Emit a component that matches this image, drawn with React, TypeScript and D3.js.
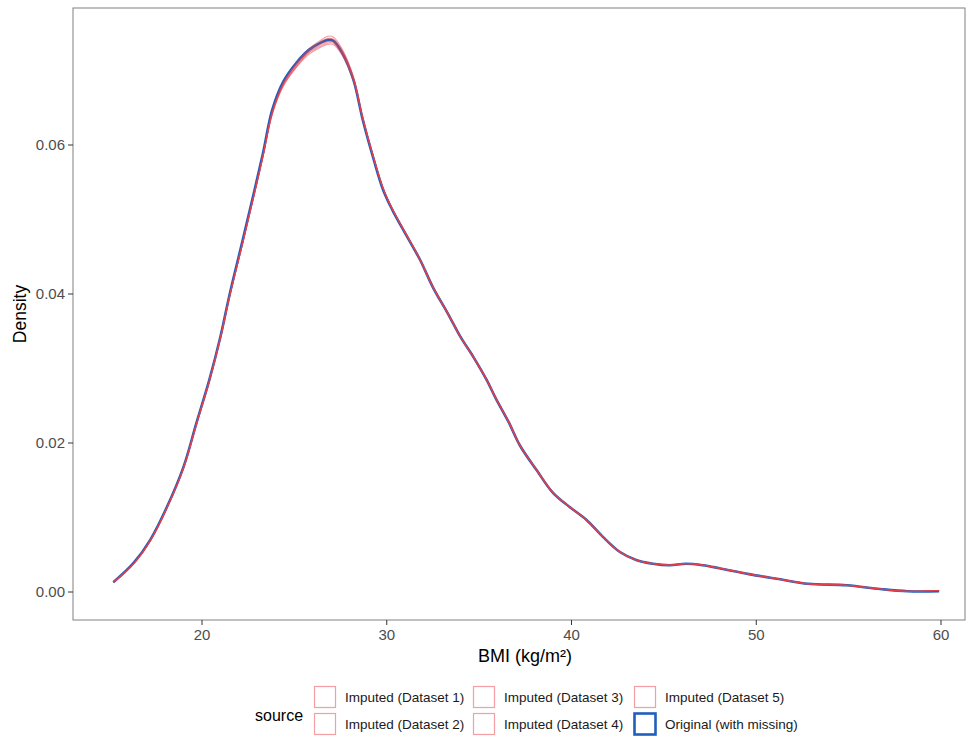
import React from "react";
import * as d3 from "d3";

const bmi = [15.2, 16.3, 17.2, 18.1, 19.0, 19.7, 20.4, 21.0, 21.5, 22.2, 22.8, 23.3, 23.8, 24.4, 25.1, 25.8, 26.4, 26.8, 27.1, 27.6, 28.2, 28.7, 29.3, 29.8, 30.3, 31.1, 31.8, 32.5, 33.3, 34.0, 34.7, 35.4, 35.9, 36.6, 37.2, 38.1, 39.0, 39.9, 40.8, 41.7, 42.6, 43.5, 44.4, 45.3, 46.2, 47.1, 48.0, 49.6, 51.3, 52.8, 54.9, 56.7, 58.2, 59.9];

const original = [0.0013, 0.0039, 0.0070, 0.0114, 0.0168, 0.0227, 0.0285, 0.0343, 0.0400, 0.0472, 0.0535, 0.0589, 0.0647, 0.0685, 0.0710, 0.0728, 0.0737, 0.0741, 0.0740, 0.0723, 0.0687, 0.0634, 0.0580, 0.0540, 0.0513, 0.0477, 0.0446, 0.0409, 0.0374, 0.0342, 0.0315, 0.0285, 0.0260, 0.0228, 0.0197, 0.0164, 0.0133, 0.0114, 0.0097, 0.0074, 0.0054, 0.0043, 0.0038, 0.0036, 0.0038, 0.0036, 0.0032, 0.0024, 0.0017, 0.0011, 0.0009, 0.0004, 0.0001, 0.0001];
const imputed1 = [0.0013, 0.0038, 0.0069, 0.0113, 0.0167, 0.0226, 0.0284, 0.0342, 0.0398, 0.0469, 0.0532, 0.0586, 0.0644, 0.0683, 0.0709, 0.0729, 0.0740, 0.0746, 0.0745, 0.0728, 0.0691, 0.0637, 0.0582, 0.0542, 0.0514, 0.0478, 0.0446, 0.0409, 0.0374, 0.0342, 0.0315, 0.0285, 0.0260, 0.0228, 0.0197, 0.0164, 0.0133, 0.0114, 0.0097, 0.0074, 0.0054, 0.0043, 0.0038, 0.0036, 0.0038, 0.0036, 0.0032, 0.0024, 0.0017, 0.0011, 0.0009, 0.0004, 0.0001, 0.0002];
const imputed2 = [0.0013, 0.0038, 0.0069, 0.0113, 0.0166, 0.0225, 0.0283, 0.0341, 0.0397, 0.0468, 0.0530, 0.0584, 0.0641, 0.0679, 0.0704, 0.0722, 0.0731, 0.0735, 0.0735, 0.0720, 0.0686, 0.0635, 0.0582, 0.0542, 0.0514, 0.0478, 0.0447, 0.0410, 0.0375, 0.0342, 0.0315, 0.0285, 0.0260, 0.0228, 0.0197, 0.0164, 0.0133, 0.0114, 0.0097, 0.0074, 0.0054, 0.0043, 0.0038, 0.0036, 0.0038, 0.0036, 0.0032, 0.0024, 0.0017, 0.0011, 0.0009, 0.0004, 0.0001, 0.0002];
const imputed3 = [0.0013, 0.0038, 0.0069, 0.0113, 0.0167, 0.0226, 0.0284, 0.0342, 0.0398, 0.0469, 0.0531, 0.0585, 0.0642, 0.0681, 0.0706, 0.0725, 0.0735, 0.0739, 0.0739, 0.0724, 0.0689, 0.0636, 0.0582, 0.0542, 0.0514, 0.0478, 0.0446, 0.0409, 0.0374, 0.0342, 0.0315, 0.0286, 0.0261, 0.0229, 0.0198, 0.0165, 0.0134, 0.0114, 0.0097, 0.0074, 0.0054, 0.0043, 0.0038, 0.0036, 0.0038, 0.0036, 0.0032, 0.0024, 0.0017, 0.0011, 0.0009, 0.0004, 0.0001, 0.0002];
const imputed4 = [0.0013, 0.0038, 0.0069, 0.0113, 0.0167, 0.0226, 0.0284, 0.0342, 0.0398, 0.0469, 0.0532, 0.0586, 0.0644, 0.0683, 0.0708, 0.0727, 0.0738, 0.0743, 0.0742, 0.0726, 0.0690, 0.0636, 0.0582, 0.0542, 0.0514, 0.0478, 0.0446, 0.0409, 0.0374, 0.0342, 0.0315, 0.0285, 0.0260, 0.0228, 0.0197, 0.0164, 0.0133, 0.0114, 0.0097, 0.0074, 0.0054, 0.0043, 0.0038, 0.0036, 0.0038, 0.0036, 0.0032, 0.0024, 0.0017, 0.0011, 0.0009, 0.0004, 0.0001, 0.0002];
const imputed5 = [0.0013, 0.0038, 0.0069, 0.0113, 0.0166, 0.0225, 0.0283, 0.0341, 0.0397, 0.0468, 0.0531, 0.0585, 0.0642, 0.0680, 0.0705, 0.0724, 0.0733, 0.0737, 0.0737, 0.0722, 0.0688, 0.0636, 0.0582, 0.0542, 0.0514, 0.0478, 0.0446, 0.0409, 0.0374, 0.0342, 0.0315, 0.0285, 0.0260, 0.0228, 0.0197, 0.0164, 0.0133, 0.0114, 0.0097, 0.0074, 0.0054, 0.0043, 0.0038, 0.0036, 0.0038, 0.0036, 0.0032, 0.0024, 0.0017, 0.0011, 0.0009, 0.0004, 0.0001, 0.0002];

const xTicks = [20, 30, 40, 50, 60];
const yTicks = [0, 0.02, 0.04, 0.06];

const legendLabels = [
  "Imputed (Dataset 1)", "Imputed (Dataset 2)", "Imputed (Dataset 3)",
  "Imputed (Dataset 4)", "Imputed (Dataset 5)", "Original (with missing)",
];

const IMP_COLOR = "#e8404a";
const ORIG_COLOR = "#1f5fbf";
const FONT = "'Liberation Sans', Arial, sans-serif";

export default function App() {
  const W = 972, H = 742;
  const left = 73, right = 965, top = 8, bottom = 620;
  const x = d3.scaleLinear().domain([20, 60]).range([202, 941]);
  const y = d3.scaleLinear().domain([0, 0.06]).range([592, 145]);
  const line = d3.line<number>()
    .x((_, i) => x(bmi[i]))
    .y((d) => y(d))
    .curve(d3.curveCatmullRom.alpha(0.5));
  const imputed = [imputed1, imputed2, imputed3, imputed4, imputed5];

  const legendCols = [314, 473, 634];
  const legendRows = [686, 713];
  const keySize = 22;

  return (
    <svg width={W} height={H} style={{ position: "absolute", left: 0, top: 0, background: "#fff" }} fontFamily={FONT}>
      <rect x={0} y={0} width={W} height={H} fill="#fff" />
      <path d={line(original) || ""} fill="none" stroke={ORIG_COLOR} strokeWidth={2.6} />
      {imputed.map((arr, k) => (
        <path key={k} d={line(arr) || ""} fill="none" stroke={IMP_COLOR} strokeOpacity={0.5} strokeWidth={1.2} />
      ))}
      <rect x={left} y={top} width={right - left} height={bottom - top} fill="none" stroke="#808080" strokeWidth={1} />
      {yTicks.map((t) => (
        <g key={t}>
          <line x1={left - 5} x2={left} y1={y(t)} y2={y(t)} stroke="#333" strokeWidth={1} />
          <text x={left - 8} y={y(t)} dy="0.35em" textAnchor="end" fontSize={15} fill="#4d4d4d">{t.toFixed(2)}</text>
        </g>
      ))}
      {xTicks.map((t) => (
        <g key={t}>
          <line x1={x(t)} x2={x(t)} y1={bottom} y2={bottom + 5} stroke="#333" strokeWidth={1} />
          <text x={x(t)} y={bottom + 20} textAnchor="middle" fontSize={15} fill="#4d4d4d">{t}</text>
        </g>
      ))}
      <text x={525} y={662} textAnchor="middle" fontSize={18} fill="#000">BMI (kg/m²)</text>
      <text transform={`translate(26,${(top + bottom) / 2}) rotate(-90)`} textAnchor="middle" fontSize={17.5} fill="#000">Density</text>
      <text x={255} y={721} fontSize={16} fill="#000">source</text>
      {legendLabels.map((lab, i) => {
        const col = Math.floor(i / 2);
        const row = i % 2;
        const kx = legendCols[col];
        const ky = legendRows[row];
        const isOrig = i === 5;
        return (
          <g key={lab}>
            <rect x={kx + 0.5} y={ky + 0.5} width={keySize - 1} height={keySize - 1} fill="#fff"
              stroke={isOrig ? ORIG_COLOR : IMP_COLOR} strokeOpacity={isOrig ? 1 : 0.5} strokeWidth={isOrig ? 2.6 : 1.2} />
            <text x={kx + keySize + 9} y={ky + keySize / 2} dy="0.35em" fontSize={13.5} fill="#1a1a1a">{lab}</text>
          </g>
        );
      })}
    </svg>
  );
}
